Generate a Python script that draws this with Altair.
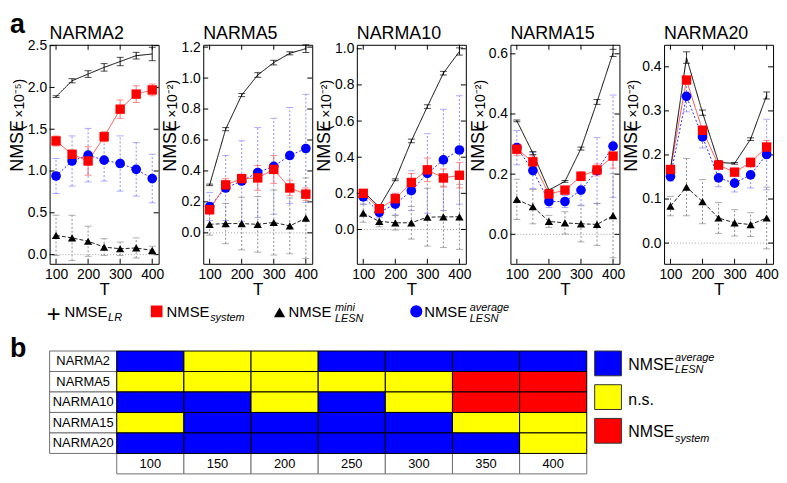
import altair as alt
import pandas as pd

FONT = "Liberation Sans"

T_VALUES = [100, 150, 200, 250, 300, 350, 400]
TASKS = ["NARMA2", "NARMA5", "NARMA10", "NARMA15", "NARMA20"]
NB = "\u00a0"
Y_UNITS = ["(" + NB * 2 + "×10⁻⁵)"] + ["(" + NB * 2 + "×10⁻²)"] * 4

# NMSE_LR (mean, error)
LR_MEAN = [
    [1.89, 2.08, 2.16, 2.24, 2.31, 2.38, 2.40],
    [0.31, 0.67, 0.89, 1.02, 1.10, 1.16, 1.19],
    [0.21, 0.125, 0.275, 0.49, 0.68, 0.865, 0.985],
    [0.377, 0.27, 0.147, 0.176, 0.285, 0.44, 0.603],
    [0.168, 0.421, 0.296, 0.183, 0.181, 0.236, 0.335],
]
LR_ERR = [
    [0.01, 0.025, 0.04, 0.045, 0.05, 0.04, 0.08],
    [0.005, 0.01, 0.01, 0.015, 0.015, 0.01, 0.025],
    [0.005, 0.005, 0.005, 0.01, 0.01, 0.01, 0.02],
    [0.003, 0.005, 0.003, 0.003, 0.005, 0.008, 0.012],
    [0.003, 0.013, 0.006, 0.004, 0.002, 0.003, 0.008],
]
# NMSE_system
SYS_MEAN = [
    [1.36, 1.20, 1.12, 1.41, 1.74, 1.92, 1.97],
    [0.15, 0.31, 0.35, 0.355, 0.41, 0.29, 0.25],
    [0.20, 0.115, 0.17, 0.26, 0.33, 0.285, 0.30],
    [0.283, 0.241, 0.134, 0.147, 0.193, 0.214, 0.26],
    [0.167, 0.37, 0.256, 0.177, 0.161, 0.183, 0.218],
]
SYS_ERR = [
    [0.06, 0.05, 0.17, 0.06, 0.11, 0.10, 0.07],
    [0.03, 0.04, 0.03, 0.08, 0.09, 0.05, 0.04],
    [0.02, 0.02, 0.03, 0.05, 0.065, 0.05, 0.07],
    [0.02, 0.02, 0.015, 0.01, 0.015, 0.02, 0.04],
    [0.005, 0.006, 0.008, 0.008, 0.006, 0.01, 0.015],
]
# NMSE_LESN average
AVG_MEAN = [
    [0.94, 1.12, 1.19, 1.13, 1.09, 1.02, 0.91],
    [0.17, 0.29, 0.335, 0.39, 0.43, 0.50, 0.545],
    [0.18, 0.095, 0.14, 0.215, 0.31, 0.385, 0.44],
    [0.288, 0.212, 0.109, 0.109, 0.147, 0.212, 0.293],
    [0.151, 0.333, 0.241, 0.148, 0.136, 0.155, 0.201],
]
AVG_ERR = [
    [0.21, 0.30, 0.32, 0.25, 0.33, 0.32, 0.29],
    [0.09, 0.21, 0.26, 0.29, 0.31, 0.31, 0.35],
    [0.04, 0.03, 0.06, 0.11, 0.22, 0.28, 0.30],
    [0.057, 0.06, 0.02, 0.02, 0.05, 0.11, 0.17],
    [0.01, 0.035, 0.025, 0.02, 0.02, 0.03, 0.08],
]
# NMSE_LESN mini
MINI_MEAN = [
    [0.23, 0.20, 0.16, 0.09, 0.07, 0.08, 0.05],
    [0.055, 0.06, 0.06, 0.055, 0.067, 0.045, 0.095],
    [0.09, 0.045, 0.037, 0.037, 0.068, 0.07, 0.07],
    [0.116, 0.092, 0.043, 0.038, 0.035, 0.033, 0.062],
    [0.084, 0.127, 0.094, 0.057, 0.046, 0.042, 0.057],
]
MINI_ERR = [
    [0.24, 0.27, 0.18, 0.10, 0.08, 0.12, 0.05],
    [0.07, 0.13, 0.17, 0.18, 0.21, 0.18, 0.26],
    [0.05, 0.03, 0.04, 0.09, 0.16, 0.17, 0.18],
    [0.067, 0.057, 0.02, 0.037, 0.06, 0.07, 0.14],
    [0.022, 0.065, 0.05, 0.035, 0.03, 0.027, 0.07],
]

Y_DOMAINS = [[-0.11, 2.51], [-0.2, 1.215], [-0.19, 1.022], [-0.098, 0.63], [-0.047, 0.45]]
Y_TICKS = [
    [0.0, 0.5, 1.0, 1.5, 2.0, 2.5],
    [0.0, 0.2, 0.4, 0.6, 0.8, 1.0, 1.2],
    [0.0, 0.2, 0.4, 0.6, 0.8, 1.0],
    [0.0, 0.2, 0.4, 0.6],
    [0.0, 0.1, 0.2, 0.3, 0.4],
]
X_DOMAIN = [80, 420]
X_TICKS = [100, 200, 300, 400]

# significance table (b): avg = NMSE_LESN^average, ns = n.s., sys = NMSE_system
SIG = [
    ["avg", "ns", "ns", "avg", "avg", "avg", "avg"],
    ["ns", "ns", "ns", "ns", "ns", "sys", "sys"],
    ["avg", "avg", "ns", "avg", "ns", "sys", "sys"],
    ["ns", "avg", "avg", "avg", "avg", "ns", "ns"],
    ["avg", "avg", "avg", "avg", "avg", "avg", "ns"],
]

W, H = 110, 221
TY = H + 88          # top of table (b), in panel-1 pixel coordinates
TW, TH = 542, 124    # size of table (b)
DUMMY = pd.DataFrame({"d": [0]})


def txt(s, x, y, size, align="left", baseline="alphabetic", **kw):
    return alt.Chart(DUMMY).mark_text(
        align=align, baseline=baseline, fontSize=size, color="black", **kw
    ).encode(x=alt.value(x), y=alt.value(y), text=alt.value(s))


def panel(i):
    rows = []
    for name, means, errs in [
        ("LR", LR_MEAN[i], LR_ERR[i]),
        ("SYS", SYS_MEAN[i], SYS_ERR[i]),
        ("AVG", AVG_MEAN[i], AVG_ERR[i]),
        ("MINI", MINI_MEAN[i], MINI_ERR[i]),
    ]:
        for t, m, e in zip(T_VALUES, means, errs):
            rows.append({"T": t, "s": name, "mean": m, "lo": m - e, "hi": m + e})
    df = pd.DataFrame(rows)

    xscale = alt.Scale(domain=X_DOMAIN, nice=False, zero=False)
    yscale = alt.Scale(domain=Y_DOMAINS[i], nice=False, zero=False)
    xaxis = alt.Axis(values=X_TICKS, ticks=False, domain=False, grid=False,
                     labelFontSize=14, labelPadding=4, labelFlush=False,
                     title="T", titleFontSize=17, titleFontWeight="normal",
                     titlePadding=0)
    yaxis = alt.Axis(values=Y_TICKS[i], format=".1f", ticks=False, domain=False,
                     grid=False, labelFontSize=14, labelPadding=3, title=None)

    def X(f="T"):
        return alt.X(f"{f}:Q", scale=xscale, axis=xaxis)

    def Y(f):
        return alt.Y(f"{f}:Q", scale=yscale, axis=yaxis)

    base = alt.Chart(df)
    layers = []
    layers.append(alt.Chart(pd.DataFrame({"v": [0.0]})).mark_rule(
        color="#a0a0a0", strokeDash=[1, 2], strokeWidth=1).encode(y=Y("v")))
    ydf = alt.Chart(pd.DataFrame({"v": Y_TICKS[i]}))
    xdf = alt.Chart(pd.DataFrame({"v": X_TICKS}))
    layers.append(ydf.mark_rule(color="black").encode(y=Y("v"), x=alt.value(0), x2=alt.value(5)))
    layers.append(ydf.mark_rule(color="black").encode(y=Y("v"), x=alt.value(W - 5), x2=alt.value(W)))
    layers.append(xdf.mark_rule(color="black").encode(x=X("v"), y=alt.value(0), y2=alt.value(5)))
    layers.append(xdf.mark_rule(color="black").encode(x=X("v"), y=alt.value(H - 5), y2=alt.value(H)))

    styles = {
        "AVG": dict(ec="#8a8aff", ed=[2, 2], lc="#2626ff", ld=[2, 2], shape="circle", mc="#0000ff", size=95),
        "MINI": dict(ec="#8c8c8c", ed=[2, 2], lc="#222222", ld=[4, 2], shape="triangle-up", mc="#000000", size=70),
        "SYS": dict(ec="#ff6060", ed=[1, 0], lc="#ff4a4a", ld=[1, 0], shape="square", mc="#ff0000", size=90),
        "LR": dict(ec="#000000", ed=[1, 0], lc="#000000", ld=[1, 0], shape=None, mc=None, size=0),
    }
    for s in ["AVG", "MINI", "SYS", "LR"]:
        st = styles[s]
        b = base.transform_filter(alt.datum.s == s)
        layers.append(b.mark_rule(color=st["ec"], strokeDash=st["ed"], strokeWidth=1).encode(
            x=X(), y=Y("lo"), y2="hi"))
        layers.append(b.mark_tick(orient="horizontal", size=7, thickness=1, color=st["ec"]).encode(
            x=X(), y=Y("lo")))
        layers.append(b.mark_tick(orient="horizontal", size=7, thickness=1, color=st["ec"]).encode(
            x=X(), y=Y("hi")))
    for s in ["MINI", "AVG", "SYS", "LR"]:
        st = styles[s]
        b = base.transform_filter(alt.datum.s == s)
        layers.append(b.mark_line(color=st["lc"], strokeDash=st["ld"], strokeWidth=1).encode(
            x=X(), y=Y("mean")))
    for s in ["MINI", "AVG", "SYS"]:
        st = styles[s]
        b = base.transform_filter(alt.datum.s == s)
        layers.append(b.mark_point(shape=st["shape"], filled=True, color=st["mc"], opacity=1,
                                   size=st["size"]).encode(x=X(), y=Y("mean")))
    # panel title and y-axis title
    layers.append(txt(TASKS[i], 0, -6, 18))
    layers.append(txt("NMSE", -32, 128, 18, angle=270, baseline="middle"))
    layers.append(txt(Y_UNITS[i], -30, 86, 14, angle=270, baseline="middle"))
    if i == 0:
        layers.append(txt("a", -40, -12, 27, fontWeight="bold"))
    return alt.layer(*layers)


def table():
    cols = ["lab"] + [str(t) for t in T_VALUES]
    rows_dom = TASKS + ["T"]
    cells = []
    for r, task in enumerate(TASKS):
        for c, t in enumerate(T_VALUES):
            cells.append({"col": str(t), "row": task, "cat": SIG[r][c]})
    cells = pd.DataFrame(cells)
    labels = pd.DataFrame(
        [{"col": "lab", "row": task, "text": task} for task in TASKS]
        + [{"col": str(t), "row": "T", "text": str(t)} for t in T_VALUES]
    )
    xs = alt.X("col:O", scale=alt.Scale(domain=cols, range=[0, TW], paddingInner=0, paddingOuter=0), axis=None)
    ys = alt.Y("row:O", scale=alt.Scale(domain=rows_dom, range=[TY, TY + TH], paddingInner=0, paddingOuter=0), axis=None)

    layers = [
        alt.Chart(labels).mark_rect(fill="white", stroke="#707070", strokeWidth=1).encode(x=xs, y=ys),
        alt.Chart(labels).mark_text(fontSize=13, color="black").encode(x=xs, y=ys, text="text:N"),
        alt.Chart(cells).mark_rect(stroke="black", strokeWidth=1).encode(
            x=xs, y=ys,
            color=alt.Color("cat:N", scale=alt.Scale(domain=["avg", "ns", "sys"],
                                                     range=["#0000ff", "#ffff00", "#ff0000"]),
                            legend=None)),
    ]
    # legend of table (b)
    sw = [("#0000ff", 0, 25), ("#ffff00", 34, 59), ("#ff0000", 68, 93)]
    for col, y0, y1 in sw:
        layers.append(alt.Chart(DUMMY).mark_rect(fill=col, stroke="#333333", strokeWidth=1).encode(
            x=alt.value(550), x2=alt.value(577), y=alt.value(TY + y0), y2=alt.value(TY + y1)))
    layers += [
        txt("NMSE", 584, TY + 19, 16),
        txt("average", 631, TY + 10, 11, fontStyle="italic"),
        txt("LESN", 631, TY + 22, 11, fontStyle="italic"),
        txt("n.s.", 584, TY + 54, 16),
        txt("NMSE", 584, TY + 87, 16),
        txt("system", 631, TY + 92, 11, fontStyle="italic"),
        txt("b", -40, TY + 6, 27, fontWeight="bold"),
    ]
    # legend of panels (a)
    yl = TY - 34
    layers += [
        txt("+", 4, yl + 5, 24, align="center"),
        txt("NMSE", 15, yl, 15),
        txt("LR", 59, yl + 4, 11, fontStyle="italic"),
        alt.Chart(DUMMY).mark_point(shape="square", filled=True, color="#ff0000", opacity=1, size=140).encode(
            x=alt.value(108), y=alt.value(yl - 6)),
        txt("NMSE", 118, yl, 15),
        txt("system", 162, yl + 4, 11, fontStyle="italic"),
        alt.Chart(DUMMY).mark_point(shape="triangle-up", filled=True, color="#000000", opacity=1, size=130).encode(
            x=alt.value(232), y=alt.value(yl - 5)),
        txt("NMSE", 241, yl, 15),
        txt("mini", 288, yl - 6, 11, fontStyle="italic"),
        txt("LESN", 288, yl + 5, 11, fontStyle="italic"),
        alt.Chart(DUMMY).mark_point(shape="circle", filled=True, color="#0000ff", opacity=1, size=150).encode(
            x=alt.value(370), y=alt.value(yl - 6)),
        txt("NMSE", 378, yl, 15),
        txt("average", 424, yl - 6, 11, fontStyle="italic"),
        txt("LESN", 424, yl + 5, 11, fontStyle="italic"),
    ]
    return alt.layer(*layers)


panels = []
for i in range(5):
    p = panel(i)
    if i == 0:
        p = alt.layer(p, table()).resolve_scale(x="independent", y="independent", color="independent")
    panels.append(p.properties(width=W, height=H))

chart = alt.hconcat(*panels, spacing=45, bounds="flush").properties(
    padding={"left": 0, "top": 0, "right": 0, "bottom": 0}
).configure(font=FONT).configure_view(stroke="black", strokeWidth=1)

chart.save("out.html", embed_options={"renderer": "svg", "actions": False})
